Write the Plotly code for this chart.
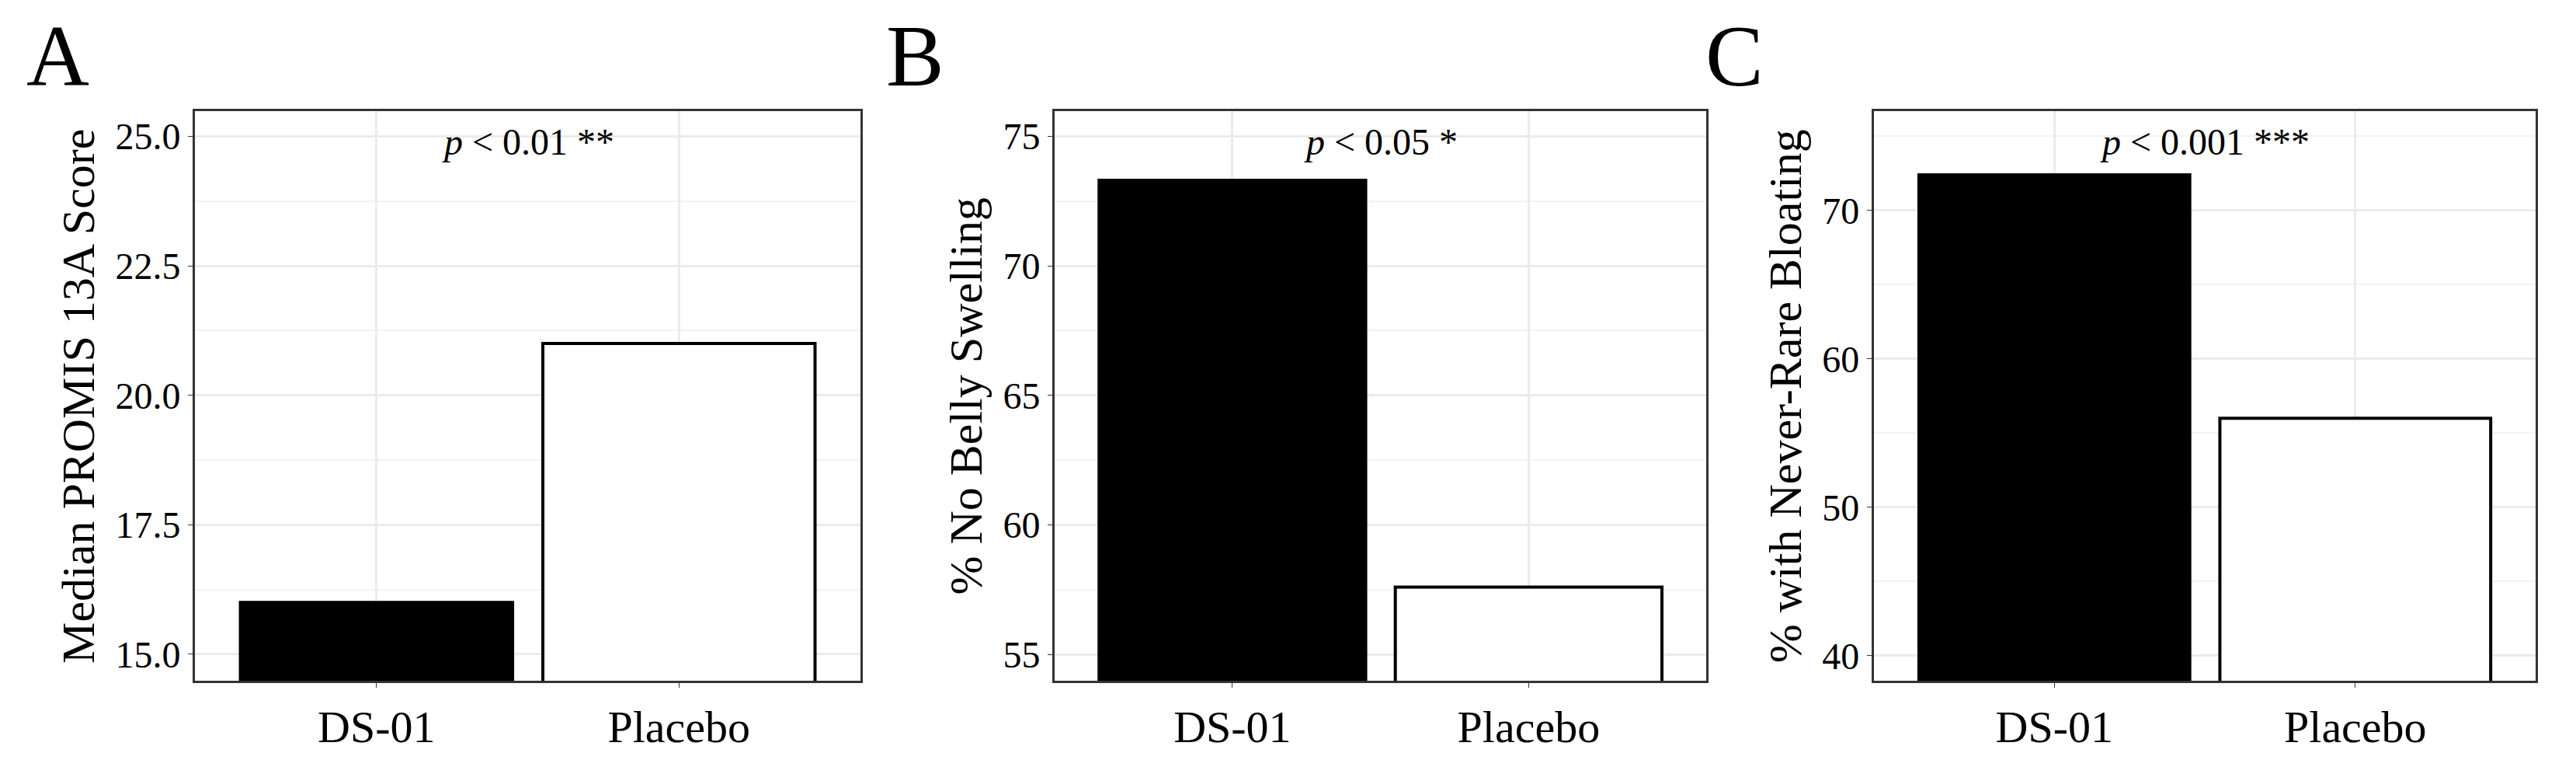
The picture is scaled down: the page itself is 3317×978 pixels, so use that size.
import plotly.graph_objects as go

categories = ["DS-01", "Placebo"]
promis = [16.0, 21.0]
no_swelling = [73.3, 57.6]
never_rare = [72.4, 56.0]
ptexts = ["<i>p</i> < 0.01 **", "<i>p</i> < 0.05 *", "<i>p</i> < 0.001 ***"]
ytitles = ["Median PROMIS 13A Score", "% No Belly Swelling", "% with Never-Rare Bloating"]
letters = ["A", "B", "C"]
yranges = [[14.48, 25.49], [53.97, 75.97], [38.3, 76.7]]
ytickvals = [[15, 17.5, 20, 22.5, 25], [55, 60, 65, 70, 75], [40, 50, 60, 70]]
yticktext = [["15.0", "17.5", "20.0", "22.5", "25.0"], ["55", "60", "65", "70", "75"], ["40", "50", "60", "70"]]
minors = [1.25, 2.5, 5]
series = [promis, no_swelling, never_rare]

FONT = "Liberation Serif"
xdoms = [[0.0733, 0.3316], [0.407, 0.660], [0.725, 0.982]]
ydom = [0.112, 0.862]

fig = go.Figure()
for i in range(3):
    ax = "" if i == 0 else str(i + 1)
    fig.add_trace(go.Bar(x=categories, y=series[i], width=0.9,
                         marker=dict(color=["black", "white"], line=dict(color="black", width=4)),
                         xaxis="x" + ax, yaxis="y" + ax, showlegend=False))
    fig.update_layout(**{
        "xaxis" + ax: dict(domain=xdoms[i], anchor="y" + ax, range=[-0.6, 1.6],
                           showgrid=True, gridcolor="#ebebeb", gridwidth=3,
                           showline=True, mirror=True, linecolor="#333333", linewidth=3,
                           ticks="outside", ticklen=6, tickcolor="#333333",
                           tickfont=dict(family=FONT, size=58, color="black")),
        "yaxis" + ax: dict(domain=ydom, anchor="x" + ax, range=yranges[i],
                           tickvals=ytickvals[i], ticktext=yticktext[i],
                           showgrid=True, gridcolor="#ebebeb", gridwidth=3,
                           minor=dict(dtick=minors[i], showgrid=True, gridcolor="#f3f3f3", gridwidth=2),
                           showline=True, mirror=True, linecolor="#333333", linewidth=3,
                           ticks="outside", ticklen=6, tickcolor="#333333", zeroline=False,
                           tickfont=dict(family=FONT, size=48, color="black"),
                           title=dict(text=ytitles[i], standoff=8,
                                      font=dict(family=FONT, size=60, color="black"))),
    })
    fig.add_annotation(text=ptexts[i], xref="x" + ax + " domain", yref="y" + ax + " domain",
                       x=0.5, y=0.985, xanchor="center", yanchor="top", showarrow=False,
                       font=dict(family=FONT, size=48, color="black"))
    fig.add_annotation(text=letters[i], xref="paper", yref="paper",
                       x=xdoms[i][0] - 0.066, y=1.0, xanchor="left", yanchor="top", showarrow=False,
                       font=dict(family=FONT, size=112, color="black"))

fig.update_layout(width=3317, height=978, margin=dict(l=0, r=0, t=0, b=0),
                  plot_bgcolor="white", paper_bgcolor="white", bargap=0.1)
fig.write_html("out.html")
